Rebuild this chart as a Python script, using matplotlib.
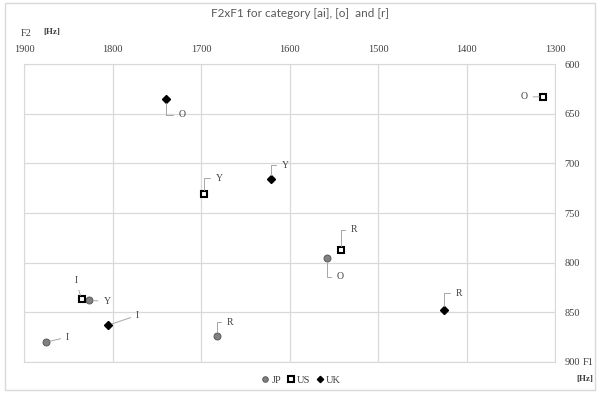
import matplotlib.pyplot as plt
from matplotlib.patches import Rectangle

# F2 (x) and F1 (y) in Hz, per speaker group
labels_jp = ["I", "Y", "R", "O"]
f2_jp = [1875, 1826, 1682, 1558]
f1_jp = [880, 838, 874, 795]

labels_us = ["O", "Y", "R", "I"]
f2_us = [1313, 1697, 1542, 1835]
f1_us = [633, 731, 787, 837]

labels_uk = ["O", "Y", "I", "R"]
f2_uk = [1739, 1621, 1805, 1425]
f1_uk = [635, 716, 863, 848]

xticks = [1900, 1800, 1700, 1600, 1500, 1400, 1300]
yticks = [600, 650, 700, 750, 800, 850, 900]

# label offsets in pixels (dx, dy), dy upward; elbow = leader line with a bend
off_jp = [(20, 5), (14, -1), (10, 14), (10, -19)]
off_us = [(-16, 0), (12, 16), (10, 20), (-4, 19)]
off_uk = [(12, -16), (11, 14), (28, 10), (11, 17)]
elbow_jp = [False, False, True, True]
elbow_us = [False, True, True, False]
elbow_uk = [True, True, False, True]

serif = "Liberation Serif"
plt.rcParams["font.family"] = serif

fig = plt.figure(figsize=(6, 3.93), dpi=100)
fig.patches.append(Rectangle((0.008, 0.008), 0.984, 0.984, transform=fig.transFigure,
                             fill=False, edgecolor="#d9d9d9", linewidth=1))
ax = fig.add_axes([0.04, 0.079, 0.885, 0.758])

ax.set_xlim(1900, 1300)
ax.set_ylim(900, 600)
ax.set_xticks(xticks)
ax.set_yticks(yticks)
ax.xaxis.tick_top()
ax.yaxis.tick_right()
ax.tick_params(length=0, labelsize=7.5, colors="#404040", pad=7)
ax.grid(color="#d9d9d9", linewidth=0.9)
ax.set_axisbelow(True)
for s in ax.spines.values():
    s.set_color("#d9d9d9")

ax.plot(f2_jp, f1_jp, "o", ms=5, mfc="#808080", mec="#595959", mew=0.7, ls="none", label="JP")
ax.plot(f2_us, f1_us, "s", ms=5, mfc="white", mec="black", mew=1.5, ls="none", label="US")
ax.plot(f2_uk, f1_uk, "D", ms=4, mfc="black", mec="black", ls="none", label="UK")


def annotate(labels, xs, ys, offs, elbows):
    for lab, x, y, (dx, dy), el in zip(labels, xs, ys, offs, elbows):
        cs = "angle,angleA=0,angleB=90,rad=0" if el else "arc3"
        ax.annotate(lab, (x, y), xytext=(dx, dy), textcoords="offset pixels",
                    fontsize=7, color="#404040", va="center",
                    ha="left" if dx > 0 else "right",
                    arrowprops=dict(arrowstyle="-", color="#a6a6a6", lw=0.7,
                                    shrinkA=2, shrinkB=3, connectionstyle=cs))


annotate(labels_jp, f2_jp, f1_jp, off_jp, elbow_jp)
annotate(labels_us, f2_us, f1_us, off_us, elbow_us)
annotate(labels_uk, f2_uk, f1_uk, off_uk, elbow_uk)

fig.text(0.5, 0.965, "F2xF1 for category [ai], [o]  and [r]", ha="center", va="center",
         fontsize=8.5, color="#595959", family="Lato")
fig.text(0.034, 0.915, "F2", fontsize=7.5, color="#404040", va="center")
fig.text(0.072, 0.918, "[Hz]", fontsize=6.5, color="#404040", va="center", weight="bold")
fig.text(0.972, 0.077, "F1", fontsize=7.5, color="#404040", va="center")
fig.text(0.988, 0.035, "[Hz]", fontsize=6.5, color="#404040", va="center", ha="right",
         weight="bold")

fig.legend(loc="center", bbox_to_anchor=(0.5, 0.032), ncol=3, frameon=False,
           fontsize=7.5, handletextpad=0.0, columnspacing=0.3, handlelength=1.2,
           markerscale=0.8, labelcolor="#404040")

fig.savefig("out.png", dpi=100)
